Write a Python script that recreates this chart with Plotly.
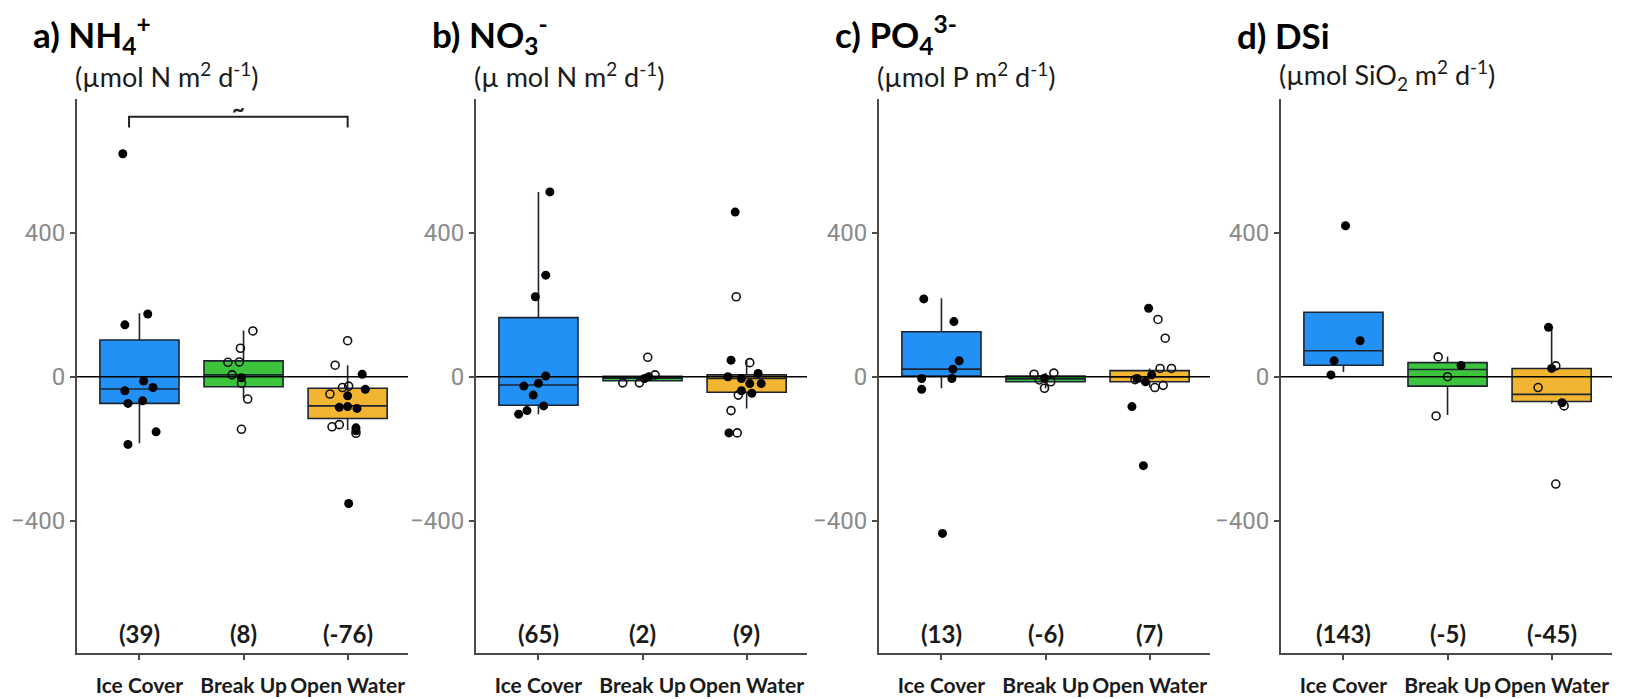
import plotly.graph_objects as go

categories = ["Ice Cover", "Break Up", "Open Water"]
box_colors = ["#2290F5", "#3CC43C", "#F2B531"]

panel_titles = ["a) NH<sub>4</sub><sup>+</sup>", "b) NO<sub>3</sub><sup>-</sup>",
                "c) PO<sub>4</sub><sup>3-</sup>", "d) DSi"]
panel_units = ["(µmol N m<sup>2</sup> d<sup>-1</sup>)", "(µ mol N m<sup>2</sup> d<sup>-1</sup>)",
               "(µmol P m<sup>2</sup> d<sup>-1</sup>)", "(µmol SiO<sub>2</sub> m<sup>2</sup> d<sup>-1</sup>)"]

# ---- box statistics per panel (Ice Cover, Break Up, Open Water) ----
nh4_q1 = [-74, -28, -116]
nh4_med = [-34, 5, -81]
nh4_q3 = [102, 44, -32]
nh4_lo = [-185, -60, -148]
nh4_hi = [176, 128, 32]
nh4_means = ["(39)", "(8)", "(-76)"]

no3_q1 = [-79, -11, -43]
no3_med = [-23, -4, -5]
no3_q3 = [164, 1, 5]
no3_lo = [-104, -17, -88]
no3_hi = [513, 5, 46]
no3_means = ["(65)", "(2)", "(9)"]

po4_q1 = [2, -14, -14]
po4_med = [21, -6, 0]
po4_q3 = [125, 2, 17]
po4_lo = [-32, -32, -30]
po4_hi = [218, 10, 23]
po4_means = ["(13)", "(-6)", "(7)"]

dsi_q1 = [32, -26, -69]
dsi_med = [72, 20, -49]
dsi_q3 = [179, 39, 23]
dsi_lo = [13, -106, -75]
dsi_hi = [179, 56, 139]
dsi_means = ["(143)", "(-5)", "(-45)"]

# ---- individual observations: category index, value, jitter, filled (1) / open (0) ----
nh4_cat = [0, 0, 0, 0, 0, 0, 0, 0, 0, 0,
           1, 1, 1, 1, 1, 1, 1, 1, 1,
           2, 2, 2, 2, 2, 2, 2, 2, 2, 2, 2, 2, 2, 2, 2, 2, 2]
nh4_val = [619, 144, 174, -12, -39, -30, -74, -67, -153, -188,
           127, 79, 40, 41, 5, -3, -18, -62, -146,
           100, 32, 7, -26, -30, -35, -48, -53, -85, -83, -88, -139, -133, -142, -157, -150, -352]
nh4_dx = [-0.16, -0.14, 0.08, 0.04, -0.14, 0.13, -0.11, 0.03, 0.16, -0.11,
          0.09, -0.03, -0.15, -0.04, -0.11, -0.02, -0.02, 0.04, -0.02,
          0.0, -0.12, 0.14, 0.01, -0.05, 0.17, -0.17, 0.0, -0.08, 0.0, 0.09, -0.15, -0.08, 0.08, 0.08, 0.08, 0.01]
nh4_fill = [1, 1, 1, 1, 1, 1, 1, 1, 1, 1,
            0, 0, 0, 0, 0, 1, 0, 0, 0,
            0, 0, 1, 0, 0, 1, 0, 1, 1, 1, 1, 0, 0, 1, 0, 1, 1]

no3_cat = [0, 0, 0, 0, 0, 0, 0, 0, 0, 0,
           1, 1, 1, 1, 1, 1,
           2, 2, 2, 2, 2, 2, 2, 2, 2, 2, 2, 2, 2, 2, 2]
no3_val = [513, 282, 222, 2, -18, -26, -51, -81, -94, -104,
           54, -17, -17, -5, 5, 0,
           457, 222, 46, 39, 9, 0, -5, -19, -39, -46, -51, -94, -156, -156, -19]
no3_dx = [0.11, 0.07, -0.03, 0.07, 0.0, -0.14, -0.05, 0.05, -0.11, -0.19,
          0.05, -0.19, -0.03, 0.02, 0.12, 0.06,
          -0.11, -0.10, -0.15, 0.03, 0.11, -0.18, -0.05, 0.14, -0.05, 0.05, -0.08, -0.15, -0.17, -0.09, 0.03]
no3_fill = [1, 1, 1, 1, 1, 1, 1, 1, 1, 1,
            0, 0, 0, 1, 0, 1,
            1, 0, 1, 0, 1, 1, 1, 1, 1, 1, 0, 0, 1, 0, 1]

po4_cat = [0, 0, 0, 0, 0, 0, 0, 0,
           1, 1, 1, 1, 1, 1,
           2, 2, 2, 2, 2, 2, 2, 2, 2, 2, 2, 2, 2]
po4_val = [216, 153, 44, 21, -5, -5, -35, -435,
           7, 10, -4, -32, -14, -9,
           190, 159, 107, 23, 23, 5, -14, -30, -24, -5, -83, -247, -8]
po4_dx = [-0.17, 0.12, 0.17, 0.11, 0.10, -0.19, -0.19, 0.01,
          -0.11, 0.08, -0.01, -0.01, 0.05, -0.06,
          -0.01, 0.08, 0.15, 0.10, 0.21, 0.02, -0.04, 0.05, 0.13, -0.12, -0.17, -0.06, -0.14]
po4_fill = [1, 1, 1, 1, 1, 1, 1, 1,
            0, 0, 1, 0, 0, 0,
            1, 0, 0, 0, 0, 1, 1, 0, 0, 1, 1, 1, 0]

dsi_cat = [0, 0, 0, 0,
           1, 1, 1, 1,
           2, 2, 2, 2, 2, 2, 2]
dsi_val = [419, 100, 44, 5,
           55, 31, 0, -109,
           137, 23, 30, -30, -72, -81, -298]
dsi_dx = [0.02, 0.16, -0.09, -0.12,
          -0.09, 0.13, 0.0, -0.11,
          -0.03, 0.0, 0.04, -0.13, 0.10, 0.12, 0.04]
dsi_fill = [1, 1, 1, 1,
            0, 1, 0, 0,
            1, 1, 0, 0, 1, 0, 0]

# significance bracket (panel a): from category, to category, height, label
sig_from, sig_to, sig_y, sig_drop, sig_label = 0, 2, 722, 30, "~"

y_ticks = [-400, 0, 400]
y_range = [-767, 771]
mean_label_y = -712

panels = [
    (nh4_q1, nh4_med, nh4_q3, nh4_lo, nh4_hi, nh4_means, nh4_cat, nh4_val, nh4_dx, nh4_fill),
    (no3_q1, no3_med, no3_q3, no3_lo, no3_hi, no3_means, no3_cat, no3_val, no3_dx, no3_fill),
    (po4_q1, po4_med, po4_q3, po4_lo, po4_hi, po4_means, po4_cat, po4_val, po4_dx, po4_fill),
    (dsi_q1, dsi_med, dsi_q3, dsi_lo, dsi_hi, dsi_means, dsi_cat, dsi_val, dsi_dx, dsi_fill),
]

W, H = 1631, 699
axis_left_px = [77, 476, 879, 1281]
axis_width_px = 331
y_top_px, y_bot_px = 99, 653

fig = go.Figure()
layout = dict(width=W, height=H, margin=dict(l=0, r=0, t=0, b=0, autoexpand=False),
              paper_bgcolor="white", plot_bgcolor="white", showlegend=False)
annotations = []
shapes = []

for p, (q1, med, q3, lo, hi, means, cat, val, dx, fill) in enumerate(panels):
    xa = "x" if p == 0 else f"x{p+1}"
    ya = "y" if p == 0 else f"y{p+1}"
    for i in range(3):
        fig.add_trace(go.Box(
            x=[i], q1=[q1[i]], median=[med[i]], q3=[q3[i]],
            lowerfence=[lo[i]], upperfence=[hi[i]],
            width=0.76, whiskerwidth=0, boxpoints=False,
            fillcolor=box_colors[i], line=dict(color="#1c2433", width=1.6),
            xaxis=xa, yaxis=ya, hoverinfo="skip"))
    fx = [c + d for c, d, f in zip(cat, dx, fill) if f == 1]
    fy = [v for v, f in zip(val, fill) if f == 1]
    ox = [c + d for c, d, f in zip(cat, dx, fill) if f == 0]
    oy = [v for v, f in zip(val, fill) if f == 0]
    fig.add_trace(go.Scatter(x=fx, y=fy, mode="markers", xaxis=xa, yaxis=ya,
                             marker=dict(color="black", size=9, line=dict(width=0))))
    fig.add_trace(go.Scatter(x=ox, y=oy, mode="markers", xaxis=xa, yaxis=ya,
                             marker=dict(symbol="circle-open", color="#111111", size=8,
                                         line=dict(width=1.6))))
    x0 = axis_left_px[p] / W
    x1 = (axis_left_px[p] + axis_width_px) / W
    key = "xaxis" if p == 0 else f"xaxis{p+1}"
    ykey = "yaxis" if p == 0 else f"yaxis{p+1}"
    layout[key] = dict(domain=[x0, x1], anchor=ya, range=[-0.6, 2.58],
                       tickvals=[0, 1, 2], ticktext=categories, tickangle=0, automargin=False,
                       showline=True, linecolor="#4a4a4a", linewidth=2,
                       ticks="outside", ticklen=5, tickcolor="#4a4a4a", tickwidth=1.5,
                       ticklabelstandoff=8,
                       showgrid=False, zeroline=False,
                       tickfont=dict(family="Lato", size=21, color="#1a1a1a", weight="bold"))
    layout[ykey] = dict(domain=[1 - y_bot_px / H, 1 - y_top_px / H], anchor=xa,
                        range=y_range, tickvals=y_ticks, automargin=False,
                        showline=True, linecolor="#4a4a4a", linewidth=2,
                        ticks="outside", ticklen=5, tickcolor="#4a4a4a", tickwidth=1.5,
                        showgrid=False, zeroline=False,
                        tickfont=dict(family="Roboto", size=24, color="#8a8a8a"))
    shapes.append(dict(type="line", xref=f"{xa} domain", yref=ya, x0=0, x1=1, y0=0, y1=0,
                       line=dict(color="black", width=1.5), layer="above"))
    for i in range(3):
        annotations.append(dict(x=i, y=mean_label_y, xref=xa, yref=ya, text=f"<b>{means[i]}</b>",
                                showarrow=False, font=dict(family="Lato", size=24, color="#1a1a1a")))
    annotations.append(dict(x=(axis_left_px[p] - 46) / W, y=1 - 35 / H, xref="paper", yref="paper",
                            xanchor="left", yanchor="middle", text=f"<b>{panel_titles[p]}</b>",
                            showarrow=False, font=dict(family="Lato", size=35, color="black")))
    annotations.append(dict(x=(axis_left_px[p] - 4) / W, y=1 - 75 / H, xref="paper", yref="paper",
                            xanchor="left", yanchor="middle", text=panel_units[p],
                            showarrow=False, font=dict(family="Lato", size=27, color="#1a1a1a")))

# significance bracket in panel a
fig.add_trace(go.Scatter(x=[sig_from - 0.1, sig_from - 0.1, sig_to, sig_to],
                         y=[sig_y - sig_drop, sig_y, sig_y, sig_y - sig_drop],
                         mode="lines", line=dict(color="#222222", width=2), xaxis="x", yaxis="y",
                         hoverinfo="skip"))
annotations.append(dict(x=(sig_from + sig_to) / 2 - 0.05, y=sig_y + 22, xref="x", yref="y",
                        text=f"<b>{sig_label}</b>",
                        showarrow=False, yanchor="middle", font=dict(family="Lato", size=22, color="#222222")))

layout["annotations"] = annotations
layout["shapes"] = shapes
fig.update_layout(**layout)
fig.write_html("out.html")
